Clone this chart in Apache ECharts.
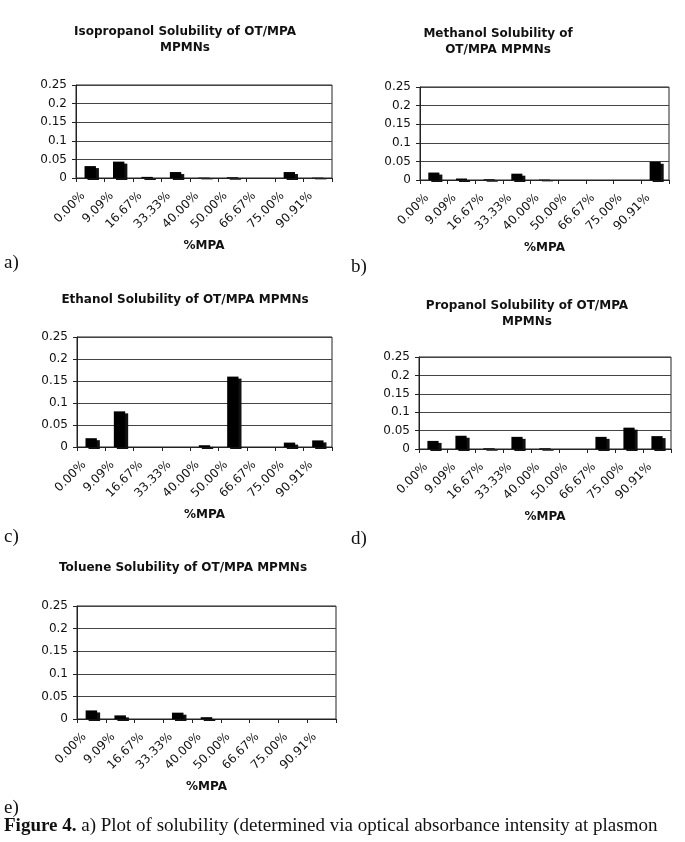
<!DOCTYPE html>
<html>
<head>
<meta charset="utf-8">
<script src="https://cdn.jsdelivr.net/npm/echarts@6/dist/echarts.min.js"></script>
<style>
  html, body { margin: 0; padding: 0; background: #fff; }
  #chart { width: 685px; height: 842px; }
</style>
</head>
<body>
<div id="chart"></div>
<script>
// %MPA categories shared by every panel
const categories = ["0.00%", "9.09%", "16.67%", "33.33%", "40.00%", "50.00%", "66.67%", "75.00%", "90.91%"];

// absorbance
const isopropanol = [0.032, 0.044, 0.003, 0.016, 0.001, 0.002, 0, 0.016, 0.001];
const methanol = [0.02, 0.004, 0.002, 0.017, 0.001, 0, 0, 0, 0.049];
const ethanol = [0.02, 0.081, 0, 0, 0.004, 0.16, 0, 0.01, 0.015];
const propanol = [0.022, 0.036, 0.002, 0.033, 0.002, 0, 0.033, 0.058, 0.035];
const toluene = [0.019, 0.008, 0, 0.014, 0.004, 0, 0, 0, 0];

const yTicks = { min: 0, max: 0.25, interval: 0.05 };

const panels = [
  { title: "Isopropanol Solubility of OT/MPA\nMPMNs", tx: 185, ty: 40, grid: { left: 76, top: 85, width: 256, height: 93 }, data: isopropanol, tag: "a)", lx: 4, ly: 263 },
  { title: "Methanol Solubility of\nOT/MPA MPMNs", tx: 498, ty: 42, grid: { left: 420, top: 87, width: 249, height: 93 }, data: methanol, tag: "b)", lx: 351, ly: 267 },
  { title: "Ethanol Solubility of OT/MPA MPMNs", tx: 185, ty: 300, grid: { left: 77, top: 337, width: 255, height: 110 }, data: ethanol, tag: "c)", lx: 4, ly: 537 },
  { title: "Propanol Solubility of OT/MPA\nMPMNs", tx: 527, ty: 314, grid: { left: 419, top: 357, width: 252, height: 92 }, data: propanol, tag: "d)", lx: 351, ly: 539 },
  { title: "Toluene Solubility of OT/MPA MPMNs", tx: 183, ty: 568, grid: { left: 77, top: 606, width: 259, height: 113 }, data: toluene, tag: "e)", lx: 4, ly: 808 }
];

const font = "DejaVu Sans";

const graphic = [];
panels.forEach(p => {
  graphic.push({
    type: "text", x: p.tx, y: p.ty,
    style: { text: p.title, font: "bold 12px 'DejaVu Sans'", fill: "#111", align: "center", verticalAlign: "middle", lineHeight: 16 }
  });
  graphic.push({
    type: "text", x: p.lx, y: p.ly,
    style: { text: p.tag, font: "19px 'Liberation Serif'", fill: "#111", align: "left", verticalAlign: "middle" }
  });
});
graphic.push({
  type: "text", x: 4, y: 826,
  style: {
    text: "{b|Figure 4.} a) Plot of solubility (determined via optical absorbance intensity at plasmon",
    font: "19px 'Liberation Serif'", fill: "#111", align: "left", verticalAlign: "middle",
    rich: { b: { fontWeight: "bold", fontFamily: "Liberation Serif", fontSize: 19, fill: "#111" } }
  }
});

const option = {
  animation: false,
  backgroundColor: "#fff",
  grid: panels.map(p => Object.assign({ show: true, borderColor: "#222", borderWidth: 1 }, p.grid)),
  xAxis: panels.map((p, i) => ({
    type: "category",
    gridIndex: i,
    data: categories,
    axisLine: { lineStyle: { color: "#222", width: 1 } },
    axisTick: { show: true, length: 4, lineStyle: { color: "#222" } },
    axisLabel: { interval: 0, rotate: 45, fontSize: 12, fontFamily: font, color: "#111", margin: 9, padding: [0, 10, 0, 0] },
    name: "%MPA",
    nameLocation: "middle",
    nameGap: 62,
    nameTextStyle: { fontWeight: "bold", fontSize: 12, fontFamily: font, color: "#111" }
  })),
  yAxis: panels.map((p, i) => ({
    type: "value",
    gridIndex: i,
    min: yTicks.min,
    max: yTicks.max,
    interval: yTicks.interval,
    axisLine: { show: true, lineStyle: { color: "#222" } },
    axisTick: { show: true, length: 4, lineStyle: { color: "#222" } },
    splitLine: { show: true, lineStyle: { color: "#444", width: 1 } },
    axisLabel: { fontSize: 12, fontFamily: font, color: "#111", margin: 9 }
  })),
  series: panels.map((p, i) => ({
    type: "bar",
    xAxisIndex: i,
    yAxisIndex: i,
    data: p.data,
    barWidth: "40%",
    itemStyle: { color: "#000", shadowColor: "#111", shadowOffsetX: 3, shadowOffsetY: 2, shadowBlur: 0 }
  })),
  graphic: graphic
};

const chart = echarts.init(document.getElementById("chart"));
chart.setOption(option);
</script>
</body>
</html>
